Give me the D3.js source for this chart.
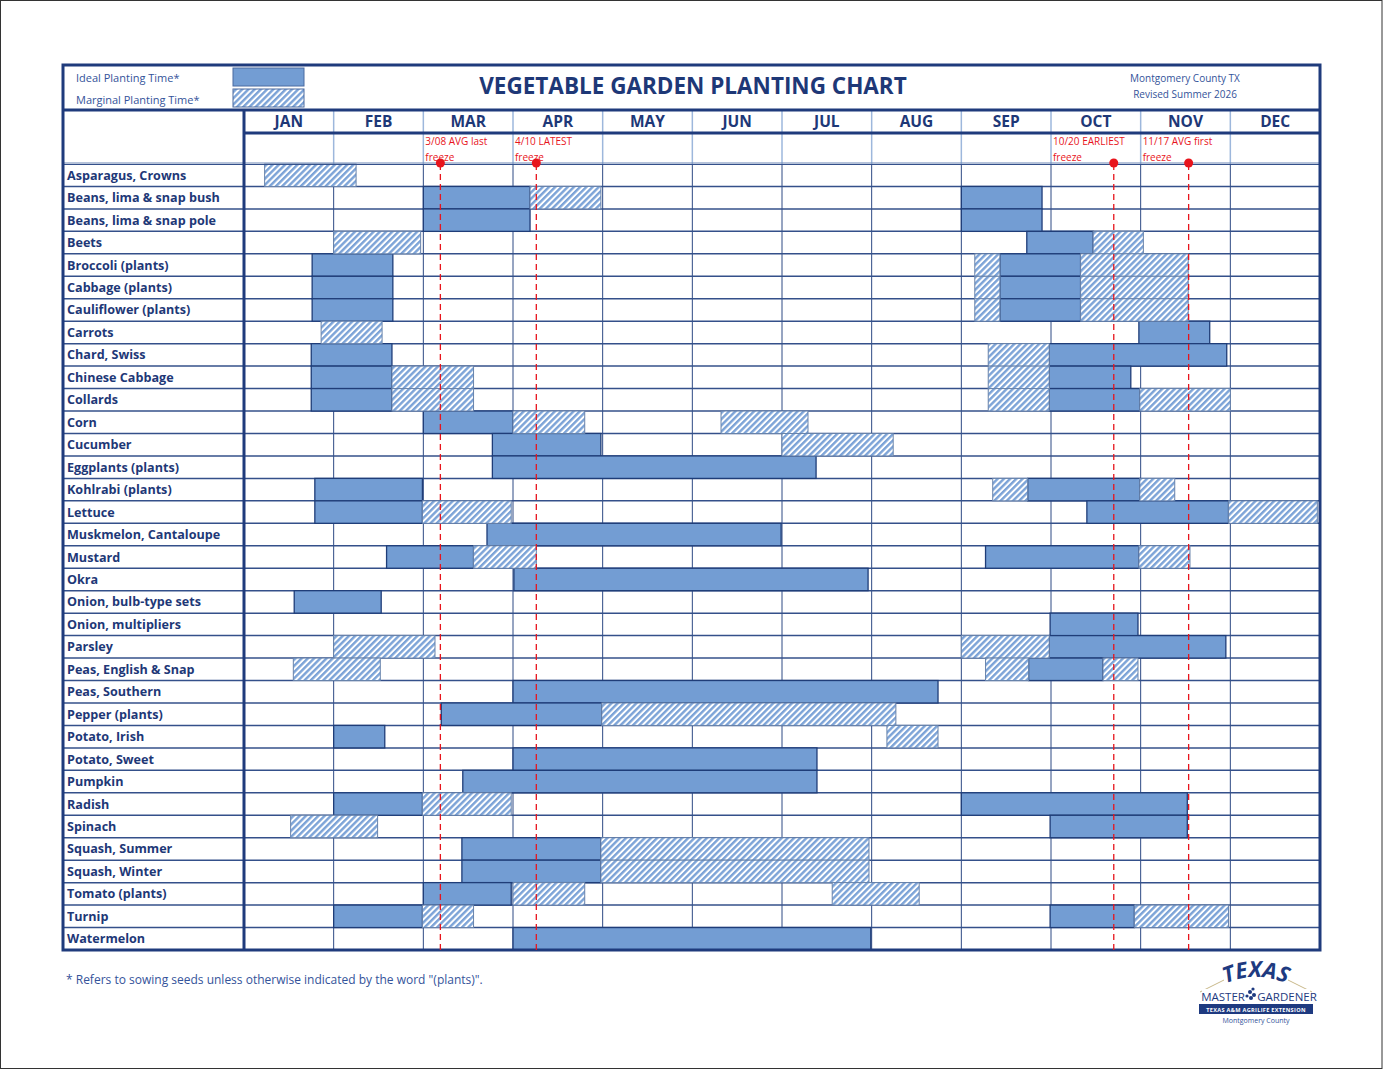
<!DOCTYPE html>
<html>
<head>
<meta charset="utf-8">
<script src="https://cdn.jsdelivr.net/npm/d3@7"></script>
<style>
  body { margin: 0; background: #fff; }
  svg text { font-family: "Open Sans", "Noto Sans", sans-serif; }
</style>
</head>
<body>
<div id="chart"></div>
<script>
// ---- data (month units: 0 = Jan 1, 12 = Dec 31) ----
var months = ["JAN", "FEB", "MAR", "APR", "MAY", "JUN", "JUL", "AUG", "SEP", "OCT", "NOV", "DEC"];

var crops = ["Asparagus, Crowns", "Beans, lima & snap bush", "Beans, lima & snap pole", "Beets",
  "Broccoli (plants)", "Cabbage (plants)", "Cauliflower (plants)", "Carrots", "Chard, Swiss",
  "Chinese Cabbage", "Collards", "Corn", "Cucumber", "Eggplants (plants)", "Kohlrabi (plants)",
  "Lettuce", "Muskmelon, Cantaloupe", "Mustard", "Okra", "Onion, bulb-type sets", "Onion, multipliers",
  "Parsley", "Peas, English & Snap", "Peas, Southern", "Pepper (plants)", "Potato, Irish",
  "Potato, Sweet", "Pumpkin", "Radish", "Spinach", "Squash, Summer", "Squash, Winter",
  "Tomato (plants)", "Turnip", "Watermelon"];

var idealSpans = [
  ["Beans, lima & snap bush", 2.0, 3.19], ["Beans, lima & snap bush", 8.0, 8.9],
  ["Beans, lima & snap pole", 2.0, 3.19], ["Beans, lima & snap pole", 8.0, 8.9],
  ["Beets", 8.73, 9.47],
  ["Broccoli (plants)", 0.76, 1.66], ["Broccoli (plants)", 8.43, 9.33],
  ["Cabbage (plants)", 0.76, 1.66], ["Cabbage (plants)", 8.43, 9.33],
  ["Cauliflower (plants)", 0.76, 1.66], ["Cauliflower (plants)", 8.43, 9.33],
  ["Carrots", 9.98, 10.77],
  ["Chard, Swiss", 0.75, 1.65], ["Chard, Swiss", 8.98, 10.96],
  ["Chinese Cabbage", 0.75, 1.65], ["Chinese Cabbage", 8.98, 9.89],
  ["Collards", 0.75, 1.65], ["Collards", 8.98, 9.99],
  ["Corn", 2.0, 3.0],
  ["Cucumber", 2.77, 3.98],
  ["Eggplants (plants)", 2.77, 6.38],
  ["Kohlrabi (plants)", 0.79, 1.99], ["Kohlrabi (plants)", 8.74, 9.99],
  ["Lettuce", 0.79, 1.99], ["Lettuce", 9.4, 10.98],
  ["Muskmelon, Cantaloupe", 2.71, 5.99],
  ["Mustard", 1.59, 2.56], ["Mustard", 8.27, 9.98],
  ["Okra", 3.01, 6.96],
  ["Onion, bulb-type sets", 0.56, 1.53],
  ["Onion, multipliers", 8.99, 9.97],
  ["Parsley", 8.98, 10.95],
  ["Peas, English & Snap", 8.75, 9.58],
  ["Peas, Southern", 3.0, 7.74],
  ["Pepper (plants)", 2.2, 3.99],
  ["Potato, Irish", 1.0, 1.57],
  ["Potato, Sweet", 3.0, 6.39],
  ["Pumpkin", 2.44, 6.39],
  ["Radish", 1.0, 1.99], ["Radish", 8.0, 10.52],
  ["Spinach", 8.99, 10.52],
  ["Squash, Summer", 2.43, 3.98],
  ["Squash, Winter", 2.43, 3.98],
  ["Tomato (plants)", 2.0, 2.98],
  ["Turnip", 1.0, 1.99], ["Turnip", 8.99, 9.93],
  ["Watermelon", 3.0, 6.99]
];

var marginalSpans = [
  ["Asparagus, Crowns", 0.23, 1.25],
  ["Beans, lima & snap bush", 3.19, 3.98],
  ["Beets", 1.0, 1.97], ["Beets", 9.47, 10.03],
  ["Broccoli (plants)", 8.15, 8.43], ["Broccoli (plants)", 9.33, 10.53],
  ["Cabbage (plants)", 8.15, 8.43], ["Cabbage (plants)", 9.33, 10.53],
  ["Cauliflower (plants)", 8.15, 8.43], ["Cauliflower (plants)", 9.33, 10.53],
  ["Carrots", 0.86, 1.54],
  ["Chard, Swiss", 8.3, 8.98],
  ["Chinese Cabbage", 1.65, 2.56], ["Chinese Cabbage", 8.3, 8.98],
  ["Collards", 1.65, 2.56], ["Collards", 8.3, 8.98], ["Collards", 9.99, 11.0],
  ["Corn", 3.0, 3.8], ["Corn", 5.32, 6.29],
  ["Cucumber", 6.0, 7.24],
  ["Kohlrabi (plants)", 8.35, 8.74], ["Kohlrabi (plants)", 9.99, 10.38],
  ["Lettuce", 1.99, 2.98], ["Lettuce", 10.98, 11.97],
  ["Mustard", 2.56, 3.26], ["Mustard", 9.98, 10.55],
  ["Parsley", 1.0, 2.13], ["Parsley", 8.0, 8.98],
  ["Peas, English & Snap", 0.55, 1.52], ["Peas, English & Snap", 8.27, 8.75], ["Peas, English & Snap", 9.58, 9.97],
  ["Pepper (plants)", 3.99, 7.27],
  ["Potato, Irish", 7.17, 7.74],
  ["Radish", 1.99, 2.98],
  ["Spinach", 0.52, 1.49],
  ["Squash, Summer", 3.98, 6.97],
  ["Squash, Winter", 3.98, 6.97],
  ["Tomato (plants)", 3.0, 3.8], ["Tomato (plants)", 6.56, 7.53],
  ["Turnip", 1.99, 2.56], ["Turnip", 9.93, 10.98]
];

var freezeDates = [2.19, 3.26, 9.70, 10.535];
var freezeMonth = [2, 3, 9, 10];
var freezeLabels = [["3/08 AVG last", "freeze"], ["4/10 LATEST", "freeze"], ["10/20 EARLIEST", "freeze"], ["11/17 AVG first", "freeze"]];

// ---- layout ----
var W = 1383, H = 1070;
var left = 63, right = 1320, labelRight = 244;
var chartTop = 65, headBottom = 110, monthBottom = 133, freezeBottom = 164, chartBottom = 950;

var navy = "#1f3b7c", textNavy = "#1e3877";
var idealFill = "#739dd3", red = "#e8141c";

var svg = d3.select("#chart").append("svg")
  .attr("width", W).attr("height", H);

// page border
svg.append("rect").attr("x", 0.5).attr("y", 0.5).attr("width", W - 1.5).attr("height", H - 2)
  .attr("fill", "#fff").attr("stroke", "#333").attr("stroke-width", 1);

var defs = svg.append("defs");
var hw = 4.4;
var pat = defs.append("pattern")
  .attr("id", "hatch")
  .attr("patternUnits", "userSpaceOnUse")
  .attr("width", hw).attr("height", hw)
  .attr("patternTransform", "rotate(45)");
pat.append("rect").attr("width", hw).attr("height", hw).attr("fill", "#fff");
pat.append("rect").attr("width", hw * 0.55).attr("height", hw).attr("fill", "#7ca3d7");

var x = d3.scaleLinear().domain([0, 12]).range([labelRight, right]);
var y = d3.scaleBand().domain(crops).range([freezeBottom, chartBottom]);

// ---- grid ----
var grid = svg.append("g");

// month vertical lines, header part (light) and body part (dark)
grid.selectAll(".mh").data(d3.range(1, 12)).enter().append("line")
  .attr("x1", d => x(d)).attr("x2", d => x(d))
  .attr("y1", headBottom).attr("y2", freezeBottom)
  .attr("stroke", "#9db7dc").attr("stroke-width", 1.5);
grid.selectAll(".mb").data(d3.range(1, 12)).enter().append("line")
  .attr("x1", d => x(d)).attr("x2", d => x(d))
  .attr("y1", freezeBottom).attr("y2", chartBottom)
  .attr("stroke", "#2e4a84").attr("stroke-width", 1);

// row lines
grid.selectAll(".row").data(crops.slice(1)).enter().append("line")
  .attr("x1", left).attr("x2", right)
  .attr("y1", d => y(d)).attr("y2", d => y(d))
  .attr("stroke", "#34508a").attr("stroke-width", 1.5);

// ---- bars ----
var bars = svg.append("g");
bars.selectAll(".ideal").data(idealSpans).enter().append("rect")
  .attr("x", d => x(d[1])).attr("y", d => y(d[0]))
  .attr("width", d => x(d[2]) - x(d[1])).attr("height", y.bandwidth())
  .attr("fill", idealFill).attr("stroke", "#1f3d78").attr("stroke-width", 1.3);
bars.selectAll(".marg").data(marginalSpans).enter().append("rect")
  .attr("x", d => x(d[1])).attr("y", d => y(d[0]))
  .attr("width", d => x(d[2]) - x(d[1])).attr("height", y.bandwidth())
  .attr("fill", "url(#hatch)").attr("stroke", "#6883ab").attr("stroke-width", 1);

// crop labels
svg.append("g").selectAll("text").data(crops).enter().append("text")
  .attr("x", left + 4).attr("y", d => y(d) + y.bandwidth() / 2 + 4.5)
  .attr("font-size", 12.6).attr("font-weight", "bold").attr("fill", textNavy)
  .text(d => d);

// ---- frame lines ----
var frame = svg.append("g").attr("fill", "none").attr("stroke", navy);
frame.append("line").attr("x1", left).attr("x2", right).attr("y1", headBottom).attr("y2", headBottom).attr("stroke-width", 3);
frame.append("line").attr("x1", labelRight).attr("x2", right).attr("y1", monthBottom).attr("y2", monthBottom).attr("stroke-width", 3);
frame.append("line").attr("x1", left).attr("x2", right).attr("y1", freezeBottom - 1).attr("y2", freezeBottom - 1).attr("stroke", "#6d86b4").attr("stroke-width", 1);
frame.append("line").attr("x1", left).attr("x2", right).attr("y1", freezeBottom + 0.5).attr("y2", freezeBottom + 0.5).attr("stroke", "#34508a").attr("stroke-width", 1.2);
frame.append("line").attr("x1", labelRight).attr("x2", labelRight).attr("y1", headBottom).attr("y2", chartBottom).attr("stroke-width", 3);
frame.append("rect").attr("x", left).attr("y", chartTop).attr("width", right - left).attr("height", chartBottom - chartTop).attr("stroke-width", 3);

// month labels
svg.append("g").selectAll("text").data(months).enter().append("text")
  .attr("x", (d, i) => x(i + 0.5)).attr("y", monthBottom - 6)
  .attr("text-anchor", "middle").attr("font-size", 15.5).attr("font-weight", "bold").attr("fill", textNavy)
  .text(d => d);

// ---- freeze markers ----
var fz = svg.append("g");
fz.selectAll("line").data(freezeDates).enter().append("line")
  .attr("x1", d => x(d)).attr("x2", d => x(d))
  .attr("y1", freezeBottom).attr("y2", chartBottom)
  .attr("stroke", red).attr("stroke-width", 1.3).attr("stroke-dasharray", "6,4");
freezeLabels.forEach(function(lab, i) {
  var t = fz.append("text").attr("x", x(freezeMonth[i]) + 2).attr("y", 145)
    .attr("font-size", 10).attr("fill", red);
  t.append("tspan").attr("x", x(freezeMonth[i]) + 2).text(lab[0]);
  t.append("tspan").attr("x", x(freezeMonth[i]) + 2).attr("dy", 16).text(lab[1]);
});
fz.selectAll("circle").data(freezeDates).enter().append("circle")
  .attr("cx", d => x(d)).attr("cy", freezeBottom - 1).attr("r", 4.5).attr("fill", red);

// ---- header ----
var head = svg.append("g");
head.append("text").attr("x", 76).attr("y", 82).attr("font-size", 11).attr("fill", "#34539a").text("Ideal Planting Time*");
head.append("text").attr("x", 76).attr("y", 104).attr("font-size", 11).attr("fill", "#34539a").text("Marginal Planting Time*");
head.append("rect").attr("x", 233).attr("y", 68).attr("width", 71).attr("height", 18)
  .attr("fill", idealFill).attr("stroke", "#4b6aa0").attr("stroke-width", 1);
head.append("rect").attr("x", 233).attr("y", 89).attr("width", 71).attr("height", 18)
  .attr("fill", "url(#hatch)").attr("stroke", "#4b6aa0").attr("stroke-width", 1);
head.append("text").attr("x", 693).attr("y", 94).attr("text-anchor", "middle")
  .attr("font-size", 22.5).attr("font-weight", "bold").attr("fill", textNavy)
  .text("VEGETABLE GARDEN PLANTING CHART");
head.append("text").attr("x", 1185).attr("y", 82).attr("text-anchor", "middle").attr("font-size", 10).attr("fill", "#34539a").text("Montgomery County TX");
head.append("text").attr("x", 1185).attr("y", 98).attr("text-anchor", "middle").attr("font-size", 10).attr("fill", "#34539a").text("Revised Summer 2026");

// footnote
svg.append("text").attr("x", 66).attr("y", 984).attr("font-size", 12).attr("fill", "#34539a")
  .text("* Refers to sowing seeds unless otherwise indicated by the word \"(plants)\".");

// ---- logo ----
var logo = svg.append("g").attr("transform", "translate(1256,0)");
logo.append("path").attr("d", "M-56,992 L0,964 L56,992").attr("fill", "none").attr("stroke", "#c9b98a").attr("stroke-width", 1);
defs.append("path").attr("id", "arc").attr("d", "M-36,986 Q0,968 36,986");
logo.append("rect").attr("x", -32).attr("y", 962).attr("width", 64).attr("height", 24).attr("fill", "#fff");
logo.append("text").attr("font-size", 22).attr("font-weight", "bold").attr("font-style", "italic")
  .attr("fill", "#1e3a80").attr("text-anchor", "middle").attr("font-family", "'Liberation Sans Narrow', 'DejaVu Sans Condensed', sans-serif")
  .append("textPath").attr("href", "#arc").attr("startOffset", "50%").text("TEXAS");
logo.append("rect").attr("x", -54).attr("y", 989).attr("width", 108).attr("height", 13).attr("fill", "#fff");
logo.append("text").attr("x", -33).attr("y", 1001).attr("text-anchor", "middle").attr("font-size", 11.5)
  .attr("font-family", "'DejaVu Sans Condensed', sans-serif").attr("fill", "#1e3a80").text("MASTER");
logo.append("text").attr("x", 31).attr("y", 1001).attr("text-anchor", "middle").attr("font-size", 11.5)
  .attr("font-family", "'DejaVu Sans Condensed', sans-serif").attr("fill", "#1e3a80").text("GARDENER");
[[-6, 992, 2.0], [-2, 995, 2.0], [-5, 998, 2.0], [-9, 996, 1.6], [-3, 989, 1.6]].forEach(function(c) {
  logo.append("circle").attr("cx", c[0]).attr("cy", c[1]).attr("r", c[2]).attr("fill", "#1e3a80");
});
logo.append("rect").attr("x", -57).attr("y", 1004).attr("width", 114).attr("height", 10).attr("fill", "#1e3a80");
logo.append("text").attr("x", 0).attr("y", 1011.5).attr("text-anchor", "middle").attr("font-size", 5.6)
  .attr("font-weight", "bold").attr("letter-spacing", 0.3).attr("fill", "#fff").text("TEXAS A&M AGRILIFE EXTENSION");
logo.append("text").attr("x", 0).attr("y", 1023).attr("text-anchor", "middle").attr("font-size", 7)
  .attr("fill", "#34539a").text("Montgomery County");
</script>
</body>
</html>
